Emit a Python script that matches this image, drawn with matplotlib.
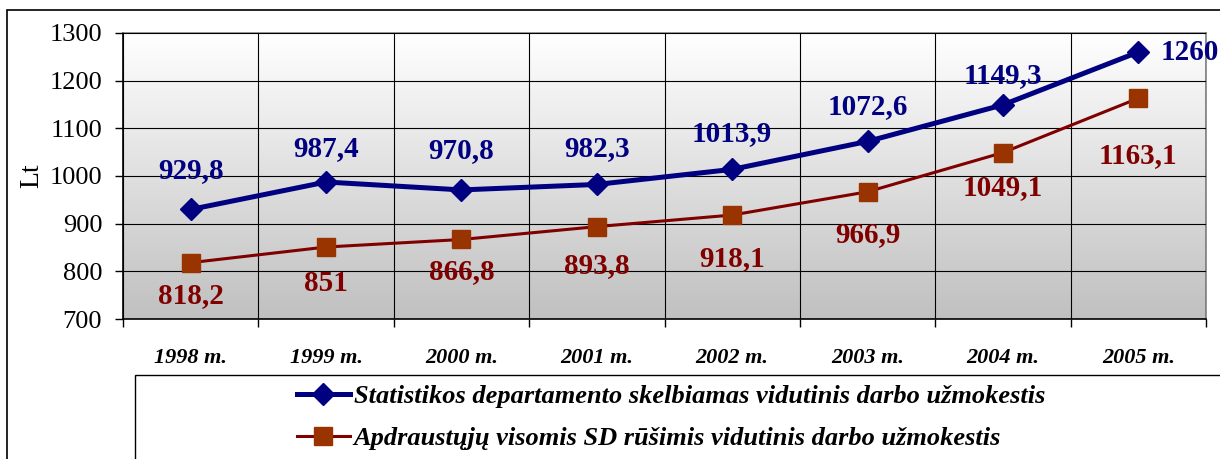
import numpy as np
import matplotlib
matplotlib.use('Agg')
import matplotlib.pyplot as plt
from matplotlib.patches import Rectangle

years = ['1998 m.', '1999 m.', '2000 m.', '2001 m.', '2002 m.', '2003 m.', '2004 m.', '2005 m.']
sd_values = [929.8, 987.4, 970.8, 982.3, 1013.9, 1072.6, 1149.3, 1260]
sd_labels = ['929,8', '987,4', '970,8', '982,3', '1013,9', '1072,6', '1149,3', '1260']
ins_values = [818.2, 851, 866.8, 893.8, 918.1, 966.9, 1049.1, 1163.1]
ins_labels = ['818,2', '851', '866,8', '893,8', '918,1', '966,9', '1049,1', '1163,1']
sd_name = 'Statistikos departamento skelbiamas vidutinis darbo užmokestis'
ins_name = 'Apdraustųjų visomis SD rūšimis vidutinis darbo užmokestis'

plt.rcParams['font.family'] = ['Liberation Serif', 'DejaVu Serif']

fig = plt.figure(figsize=(12.2, 4.59), dpi=100)
ax = fig.add_axes([123 / 1220, 1 - 319 / 459, (1206 - 123) / 1220, (319 - 33) / 459])

# outer chart border
fig.patches.append(Rectangle((7 / 1220, -0.1), 1.2, 1 - 10 / 459 + 0.1, transform=fig.transFigure,
                             fill=False, edgecolor='black', linewidth=1.2))
# legend box
fig.patches.append(Rectangle((135 / 1220, -0.1), 1.2, 1 - 375 / 459 + 0.1, transform=fig.transFigure,
                             fill=False, edgecolor='black', linewidth=1.0))

# gradient background
grad = np.linspace(0, 1, 256).reshape(-1, 1)
ax.imshow(grad, cmap=matplotlib.colors.LinearSegmentedColormap.from_list('g', ['white', '#c0c0c0']),
          extent=[0, 8, 700, 1300], aspect='auto', zorder=0, origin='upper')

x = np.arange(len(years)) + 0.5
ax.plot(x, sd_values, color='#000080', linewidth=3.6, marker='D', markersize=11,
        label=sd_name, zorder=4)
ax.plot(x, ins_values, color='#800000', linewidth=2.2, marker='s', markersize=13,
        markerfacecolor='#993300', markeredgecolor='#993300', label=ins_name, zorder=3)

sd_off = [28, 24, 28, 26, 26, 25, 21, 0]
for i, (v, lab) in enumerate(zip(sd_values, sd_labels)):
    if i == len(sd_values) - 1:
        ax.annotate(lab, (x[i], v), xytext=(16, 0), textcoords='offset points', ha='left', va='center',
                    fontsize=21, fontweight='bold', color='#000080')
    else:
        ax.annotate(lab, (x[i], v), xytext=(0, sd_off[i]), textcoords='offset points', ha='center',
                    va='center', fontsize=21, fontweight='bold', color='#000080')

ins_off = [24, 26, 23, 28, 31, 31, 25, 41]
for i, (v, lab) in enumerate(zip(ins_values, ins_labels)):
    ax.annotate(lab, (x[i], v), xytext=(0, -ins_off[i]), textcoords='offset points', ha='center',
                va='center', fontsize=21, fontweight='bold', color='#800000')

ax.set_xlim(0, 8)
ax.set_ylim(700, 1300)
ax.set_yticks(range(700, 1301, 100))
ax.set_xticks(range(0, 9))
ax.set_xticklabels([])
ax.set_xticks(x, minor=True)
ax.set_xticklabels(years, minor=True, fontsize=16, fontweight='bold', fontstyle='italic')
ax.tick_params(axis='x', which='minor', length=0, pad=21)
ax.tick_params(axis='x', which='major', length=6, direction='out', width=1)
ax.tick_params(axis='y', length=6, direction='out', labelsize=19, width=1, pad=9)
ax.grid(True, which='major', color='black', linewidth=0.8)
ax.set_axisbelow(False)
for sp in ax.spines.values():
    sp.set_color('#808080')
    sp.set_linewidth(1.2)
ax.spines['left'].set_color('black')
ax.spines['bottom'].set_color('black')
ax.set_ylabel('Lt', fontsize=20, labelpad=4)

fig.legend(loc='upper left', bbox_to_anchor=(297 / 1220, 1 - 385 / 459), frameon=False,
           prop={'size': 19, 'weight': 'bold', 'style': 'italic'}, handlelength=2.0,
           handletextpad=0.15, labelspacing=0.68, borderaxespad=0, borderpad=0)

fig.savefig('out.png', dpi=100)
